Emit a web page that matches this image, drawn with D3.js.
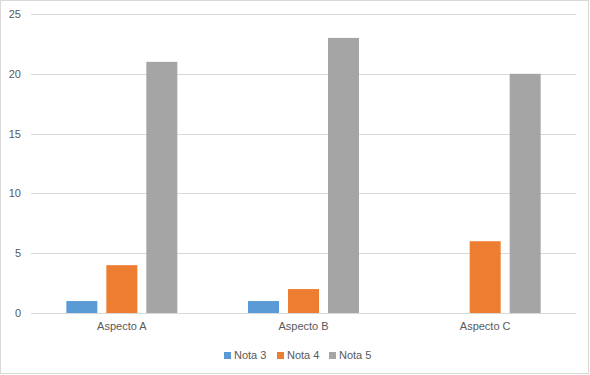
<!DOCTYPE html>
<html><head><meta charset="utf-8">
<script src="https://cdn.jsdelivr.net/npm/d3@7"></script>
<style>html,body{margin:0;padding:0;background:#fff}svg{display:block}</style>
</head><body>
<svg id="c" width="590" height="375"></svg>
<script>
const categories = ["Aspecto A", "Aspecto B", "Aspecto C"];
const seriesNames = ["Nota 3", "Nota 4", "Nota 5"];
const nota3 = [1, 1, 0];
const nota4 = [4, 2, 6];
const nota5 = [21, 23, 20];
const yTicks = [0, 5, 10, 15, 20, 25];
const colors = ["#5B9BD5", "#ED7D31", "#A5A5A5"];

(function () {
const seriesValues = [nota3, nota4, nota5];
const svg = d3.select("#c");
const font = "'Liberation Sans', Arial, sans-serif";
const textColor = "#595959";

svg.append("rect").attr("x", 0.5).attr("y", 0.5).attr("width", 588).attr("height", 373)
  .attr("fill", "#fff").attr("stroke", "#d9d9d9").attr("stroke-width", 1);

const mLeft = 31, mRight = 576, mTop = 14, mBottom = 313;
const x0 = d3.scaleBand().domain(categories).range([mLeft, mRight]).padding(0);
const groupFrac = 0.611;
const gw = x0.bandwidth() * groupFrac;
const x1 = d3.scaleBand().domain(seriesNames).range([0, gw]).paddingInner(0.225).paddingOuter(0);
const y = d3.scaleLinear().domain([0, 25]).range([mBottom, mTop]);

// gridlines
svg.append("g").selectAll("line").data(yTicks).join("line")
  .attr("x1", mLeft).attr("x2", mRight)
  .attr("y1", d => Math.round(y(d)) + 0.5).attr("y2", d => Math.round(y(d)) + 0.5)
  .attr("stroke", "#d9d9d9").attr("stroke-width", 1);

// y axis labels
const yAxis = d3.axisLeft(y).tickValues(yTicks).tickSize(0).tickPadding(0);
const yg = svg.append("g").attr("transform", `translate(21,0)`).call(yAxis);
yg.select(".domain").remove();
yg.selectAll("text").attr("font-family", font).attr("font-size", "11px").attr("fill", textColor);

// bars
const groups = svg.append("g").selectAll("g").data(categories).join("g")
  .attr("transform", c => `translate(${x0(c) + (x0.bandwidth() - gw) / 2},0)`);
groups.selectAll("rect").data((c, i) => seriesNames.map((s, j) => ({s, v: seriesValues[j][i], j})))
  .join("rect")
  .attr("x", d => x1(d.s)).attr("width", x1.bandwidth())
  .attr("y", d => y(d.v)).attr("height", d => y(0) - y(d.v))
  .attr("fill", d => colors[d.j]);

// x axis labels
const xAxis = d3.axisBottom(x0).tickSize(0).tickPadding(9);
const xg = svg.append("g").attr("transform", `translate(0,${mBottom})`).call(xAxis);
xg.select(".domain").remove();
xg.selectAll("text").attr("font-family", font).attr("font-size", "11px").attr("fill", textColor);

// legend
const legendX = [224, 277, 329];
const lg = svg.append("g").selectAll("g").data(seriesNames).join("g")
  .attr("transform", (d, i) => `translate(${legendX[i]},352)`);
lg.append("rect").attr("width", 7).attr("height", 7).attr("fill", (d, i) => colors[i]);
lg.append("text").attr("x", 10).attr("y", 3.5).attr("dy", "0.35em")
  .attr("font-family", font).attr("font-size", "11px").attr("fill", textColor).text(d => d);
})();
</script>
</body></html>
